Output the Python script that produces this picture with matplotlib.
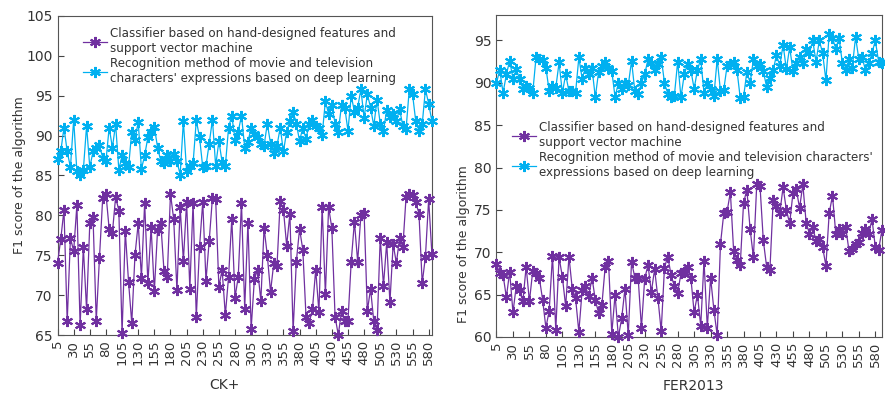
import numpy as np
import matplotlib
matplotlib.use('Agg')
import matplotlib.pyplot as plt

plt.rcParams['font.family'] = ['DejaVu Sans']

# CK+ (left panel)
ck_svm = [74, 77, 80.7, 66.7, 77.2, 75.5, 81.3, 66.2, 76, 68.2,
          79, 79.8, 66.8, 74.7, 82.2, 82.7, 78.3, 77.8, 82.3, 80.6,
          65.2, 78, 71.7, 66.5, 75, 79, 72.2, 81.6, 71.5, 78.5,
          70.5, 78.2, 79, 73, 72.3, 82.7, 79.5, 70.6, 81, 74.3,
          81.7, 70.8, 81.6, 67.2, 76, 81.7, 71.8, 76.8, 82.2, 82.1,
          71, 73.2, 67.5, 72.3, 79.6, 69.7, 72.3, 81.6, 68.3, 79.1,
          65.8, 72, 73.2, 69.3, 78.4, 75, 70.4, 74, 73.6, 81.8,
          80.7, 76.2, 80.2, 65.5, 74.2, 78.3, 75.7, 67.3, 66.5, 68.3,
          73.2, 67.9, 81.1, 70.1, 81, 78.4, 67.3, 65, 68, 66.7,
          66.8, 74.2, 79.2, 74.2, 80, 80.3, 68, 70.8, 66.7, 65.6,
          77.2, 71.2, 76.6, 69.1, 76.4, 74, 77.2, 76, 82.3, 82.7,
          82.5, 81.7, 80.2, 71.5, 74.8, 82, 75.2]
ck_deep = [87, 88, 91, 88, 86, 92, 85.5, 85, 85.7, 91.2,
           86, 88, 88.5, 88.8, 87.2, 86.8, 91, 88.5, 91.4, 85.7,
           87.5, 86.5, 86, 90.5, 89.5, 91.7, 85.8, 87.5, 89.8, 90.5,
           91.1, 88.5, 86.8, 86.5, 87.5, 86.8, 87.7, 86.8, 85.1, 91.8,
           85.5, 86.2, 86.5, 91.9, 89.8, 86, 86.2, 89, 92, 86.2,
           89.3, 86.7, 86.2, 91, 92.5, 89.5, 90.5, 92.5, 88.5, 89.2,
           91, 90.2, 89.8, 89, 88.7, 91.5, 89, 87.8, 88.7, 91,
           88, 90.5, 91.8, 93, 91.5, 89.3, 91, 89.6, 91.5, 92,
           91.2, 91, 90.1, 94.3, 92.7, 93.8, 91.5, 90.5, 93.8, 93.5,
           90.6, 95, 93, 93.5, 95.8, 92.2, 95.2, 93.5, 91.2, 94.5,
           91.5, 90.6, 93.2, 92.3, 92.7, 91.8, 93.3, 91.2, 90.8, 95.8,
           95.2, 91.8, 90.6, 91.4, 95.8, 94, 91.8]

# FER2013 (right panel)
fer_svm = [68.6, 67.5, 67.3, 64.7, 67.7, 62.9, 66, 65.5, 64.2, 68.3,
           64.2, 67.8, 67.5, 67, 64.4, 61.1, 63.1, 69.6, 60.8, 69.4,
           67.1, 63.6, 69.5, 65.7, 64.6, 60.6, 65.5, 66, 64.8, 67,
           64.4, 62.8, 63.8, 68.3, 69, 60.4, 65, 60, 62.2, 65.7,
           60.2, 68.9, 67, 67, 61.1, 66.9, 68.5, 65.3, 68, 64.6,
           60.7, 68.2, 69.5, 67.3, 66, 65.2, 67.5, 67.7, 68.3, 67,
           62.9, 65, 61.3, 69, 61.1, 67, 63.2, 60.2, 71, 74.6,
           74.8, 77.1, 70.1, 69.1, 68.5, 75.8, 77.4, 72.7, 69.4, 78,
           77.8, 71.4, 68.3, 67.9, 76.2, 75.5, 74.6, 77.7, 75, 73.4,
           77, 77.5, 75.2, 78, 73.5, 72.2, 73, 71.3, 71.6, 70.6,
           68.4, 74.6, 76.7, 72.2, 72.8, 72.2, 73, 70.2, 70.4, 71,
           71.2, 72.3, 72.8, 72.2, 73.9, 70.6, 70.3, 72.6]
fer_deep = [90, 91.5, 88.8, 91, 92.6, 90.5, 91.6, 90.5, 89.3, 89.6,
            89.4, 88.8, 93, 92.8, 92.7, 91.8, 89, 89.6, 89.4, 92.4,
            88.8, 91, 89, 89, 88.8, 93, 90.5, 91.8, 91, 91.7,
            88.3, 91.3, 92, 92.5, 91.7, 91.4, 88.3, 90, 89.3, 90,
            89.7, 92.6, 89, 88.7, 90, 91, 92.8, 92.3, 91.5, 92.2,
            93, 90, 88.7, 88.3, 88.5, 92.5, 88.3, 91, 92.2, 91.5,
            89.3, 91.5, 92.8, 88.8, 90, 89.3, 88.5, 92.8, 89, 89.2,
            92, 92.2, 92.5, 91.5, 88.2, 88.3, 91.3, 90, 92.8, 92,
            92.2, 91.4, 89.5, 90.6, 91.5, 93.3, 92, 94.5, 91.6, 94.2,
            91.4, 92.3, 93, 92.3, 94, 93.5, 95, 92.5, 95, 93.5,
            90.3, 95.8, 95.3, 94, 95.3, 92.3, 91.5, 92.8, 91.8, 95.4,
            92.8, 93, 91.5, 92.3, 93.5, 95, 92.5, 92.3]

label_svm = 'Classifier based on hand-designed features and\nsupport vector machine'
label_deep_l = "Recognition method of movie and television\ncharacters' expressions based on deep learning"
label_deep_r = "Recognition method of movie and television characters'\nexpressions based on deep learning"

purple = '#7030A0'
cyan = '#00B0F0'
text_c = '#333333'
star = (6, 2, 0)

fig = plt.figure(figsize=(8.85, 3.96), dpi=100)
ax1 = fig.add_axes([0.065, 0.154, 0.423, 0.806])
ax2 = fig.add_axes([0.561, 0.149, 0.4355, 0.813])


def draw(ax, svm, deep, lab_deep, xmax, ylim, yticks, xlabel):
    x_svm = np.arange(len(svm)) * 5 + 5
    x_deep = np.arange(len(deep)) * 5 + 5
    ax.plot(x_svm, svm, color=purple, lw=0.9, marker=star, ms=8, mew=1.5,
            label=label_svm, clip_on=False, zorder=3)
    ax.plot(x_deep, deep, color=cyan, lw=0.9, marker=star, ms=8, mew=1.5,
            label=lab_deep, clip_on=False, zorder=3)
    ax.set_xlim(5, xmax)
    ax.set_ylim(*ylim)
    ax.set_yticks(yticks)
    ax.set_xticks(np.arange(5, 581, 25))
    ax.tick_params(axis='x', labelrotation=90, labelsize=9.5)
    ax.tick_params(axis='y', labelsize=10)
    ax.tick_params(direction='in', length=4, colors='#444444',
                   labelcolor=text_c)
    for s in ax.spines.values():
        s.set_color('#555555')
        s.set_linewidth(0.8)
    ax.set_ylabel('F1 score of the algorithm', fontsize=9, color=text_c)
    ax.set_xlabel(xlabel, fontsize=10, color=text_c)


draw(ax1, ck_svm, ck_deep, label_deep_l, 585, (65, 105), np.arange(65, 106, 5), 'CK+')
draw(ax2, fer_svm, fer_deep, label_deep_r, 590, (60, 98), np.arange(60, 96, 5), 'FER2013')

ax1.yaxis.set_label_coords(-0.085, 0.5)
ax1.xaxis.set_label_coords(0.445, -0.135)
ax2.yaxis.set_label_coords(-0.07, 0.29)
ax2.xaxis.set_label_coords(0.51, -0.13)

leg_kw = dict(frameon=False, fontsize=8.6, handlelength=2.0, handletextpad=0.3,
              labelspacing=0.15, borderaxespad=0, labelcolor=text_c)
ax1.legend(loc='upper left', bbox_to_anchor=(0.055, 0.98), **leg_kw)
ax2.legend(loc='upper left', bbox_to_anchor=(0.027, 0.685), **leg_kw)

fig.savefig('out.png', dpi=100)
